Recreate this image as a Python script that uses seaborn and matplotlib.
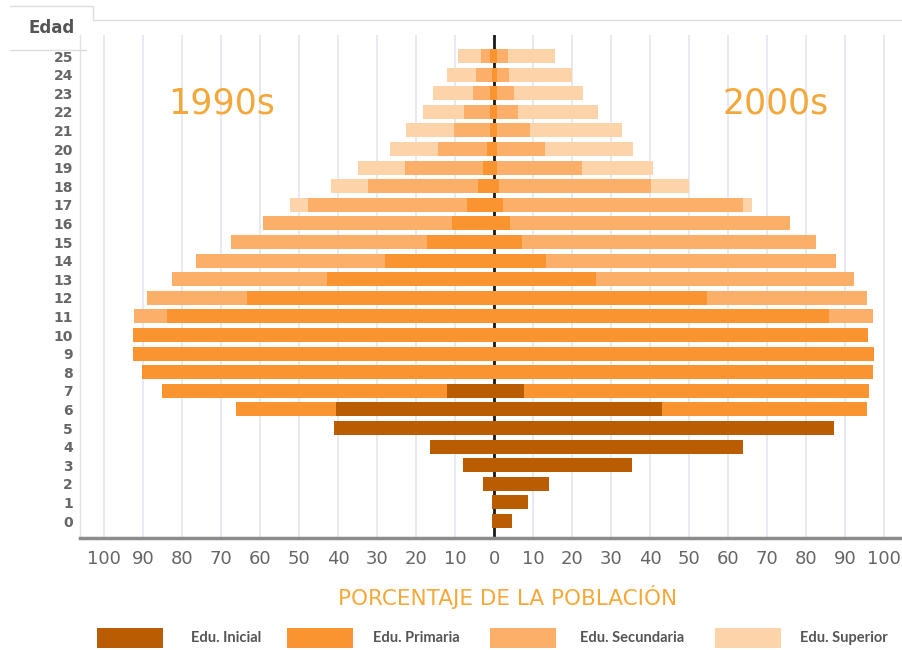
import numpy as np
import pandas as pd
import matplotlib
matplotlib.use('Agg')
import matplotlib.pyplot as plt
from matplotlib.lines import Line2D
from matplotlib.patches import Rectangle
import seaborn as sns

# Data: % of population by age and education level
ages = list(range(26))
levels = ['Edu. Inicial', 'Edu. Primaria', 'Edu. Secundaria', 'Edu. Superior']
colors = ['#B95C02', '#FA9430', '#FBAF68', '#FDD3AA']

# 1990s (left side)
ini_1990 = [0.5, 0.5, 2.8, 7.9, 16.4, 41.0, 40.5, 12.1] + [0] * 18
pri_1990 = [0] * 6 + [25.7, 73.0, 90.3, 92.6, 92.6, 83.8, 63.3, 42.8, 27.9, 17.2,
                      10.8, 6.9, 4.1, 2.8, 1.8, 1.0, 1.0, 1.0, 0.5, 1.0]
sec_1990 = [0] * 11 + [8.5, 25.7, 39.8, 48.5, 50.2, 48.4, 40.8, 28.2, 20.0, 12.6,
                       9.3, 6.7, 4.4, 4.1, 2.3]
sup_1990 = [0] * 17 + [4.6, 9.5, 12.1, 12.3, 12.3, 10.5, 10.2, 7.5, 5.9]

# 2000s (right side)
ini_2000 = [4.6, 8.7, 14.1, 35.4, 63.8, 87.2, 43.1, 7.7] + [0] * 18
pri_2000 = [0] * 6 + [52.5, 88.5, 97.2, 97.4, 95.9, 85.9, 54.6, 26.2, 13.3, 7.2,
                      4.1, 2.3, 1.3, 0.8, 0.8, 0.8, 0.8, 0.8, 0.8, 0.8]
sec_2000 = [0] * 11 + [11.3, 41.0, 66.1, 74.4, 75.4, 71.8, 61.5, 39.0, 21.8, 12.3,
                       8.4, 5.4, 4.3, 3.0, 2.8]
sup_2000 = [0] * 17 + [2.4, 9.7, 18.2, 22.5, 23.7, 20.5, 17.7, 16.2, 12.0]

xticks = list(range(-100, 101, 10))

W, H = 903, 650


def fx(px):
    return px / W


def fy(py):
    return 1 - py / H


sns.set_style('white')
plt.rcParams['font.family'] = ['DejaVu Sans']

fig = plt.figure(figsize=(9.03, 6.5), dpi=100)
ax = fig.add_axes([fx(80), fy(538), fx(900) - fx(80), fy(35) - fy(538)])

# stacked bars drawn as cumulative layers, outermost first
for sign, segs in [(-1, [ini_1990, pri_1990, sec_1990, sup_1990]),
                   (1, [ini_2000, pri_2000, sec_2000, sup_2000])]:
    cum = np.cumsum(np.array(segs, dtype=float), axis=0)
    for i in range(3, -1, -1):
        df = pd.DataFrame({'age': ages, 'val': sign * cum[i]})
        sns.barplot(data=df, x='val', y='age', orient='h', native_scale=True,
                    color=colors[i], saturation=1, width=0.75, errorbar=None,
                    linewidth=0, ax=ax, zorder=3)

ax.set_xlim((80 - 494) / 3.9, (900 - 494) / 3.9)
ax.set_ylim(-0.91, 26.13)

ax.set_xticks(xticks)
ax.set_xticklabels([str(abs(t)) for t in xticks])
ax.set_yticks(ages)
ax.set_yticklabels([str(a) for a in ages])
ax.tick_params(axis='x', direction='in', length=5, color='#C8C8C8', width=1,
               pad=9, labelsize=13, labelcolor='#666666')
ax.tick_params(axis='y', length=0, pad=5, labelsize=10, labelcolor='#666666')
for lab in ax.get_yticklabels():
    lab.set_fontweight('bold')
ax.set_xlabel('')
ax.set_ylabel('')

ax.grid(axis='x', color='#E5E8F3', lw=1.3, zorder=0)
ax.set_axisbelow(True)
ax.axvline(0, color='#1a1a1a', lw=2, zorder=2)

for s in ['top', 'right']:
    ax.spines[s].set_visible(False)
ax.spines['bottom'].set_color('#8C8C8C')
ax.spines['bottom'].set_linewidth(2.5)
ax.spines['left'].set_color('#E2E2E2')
ax.spines['left'].set_linewidth(1)

ax.text((222 - 494) / 3.9, 22.47, '1990s', color='#F4A73A', fontsize=25,
        ha='center', va='center', zorder=6)
ax.text((776 - 494) / 3.9, 22.47, '2000s', color='#F4A73A', fontsize=25,
        ha='center', va='center', zorder=6)

# "Edad" header box
fig.text(fx(52), fy(28), 'Edad', fontsize=12, fontweight='bold', color='#555555',
         ha='center', va='center')
for xs, ys in [([10, 93], [6, 6]), ([93, 93], [6, 20]), ([93, 903], [20, 20]),
               ([10, 86], [50, 50])]:
    fig.add_artist(Line2D([fx(x) for x in xs], [fy(y) for y in ys],
                          color='#DDDDDD', lw=1))

fig.text(fx(508), fy(597), 'PORCENTAJE DE LA POBLACIÓN', fontsize=15.5,
         color='#F5A93A', ha='center', va='center')

# legend row
patch_x = [97, 287, 490, 715]
text_x = [191, 373, 580, 800]
for i, lev in enumerate(levels):
    fig.add_artist(Rectangle((fx(patch_x[i]), fy(648)), fx(66), fy(628) - fy(648),
                             facecolor=colors[i], edgecolor='none',
                             transform=fig.transFigure))
    fig.text(fx(text_x[i]), fy(638), lev, fontsize=10.5, fontweight='bold',
             color='#555555', ha='left', va='center', family=['Lato', 'DejaVu Sans'])

fig.savefig('out.png', dpi=100)
